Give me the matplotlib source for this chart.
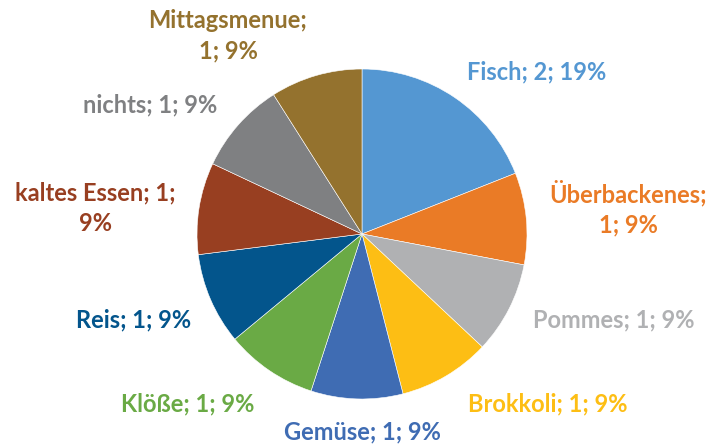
import numpy as np
import matplotlib
matplotlib.use('Agg')
import matplotlib.pyplot as plt

# Essenswünsche: Anzahl und Anteil je Kategorie
categories = ['Fisch', 'Überbackenes', 'Pommes', 'Brokkoli', 'Gemüse',
              'Klöße', 'Reis', 'kaltes Essen', 'nichts', 'Mittagsmenue']
counts = [2, 1, 1, 1, 1, 1, 1, 1, 1, 1]
percents = [19, 9, 9, 9, 9, 9, 9, 9, 9, 9]

colors = ['#5497D2', '#EA7B26', '#B0B1B3', '#FDBE14', '#3F6CB3',
          '#6AAA45', '#03558C', '#983F21', '#7F8082', '#94722E']

# Beschriftungen: Mittelpunkt (Pixel, y von oben) und Umbruchstelle
label_pos = [(537, 72), (628, 208), (614, 320), (548, 404), (362, 432),
             (188, 404), (134, 320), (95, 208), (150, 105), (228, 36)]
wrap_after = {'Überbackenes': 1, 'kaltes Essen': 2, 'Mittagsmenue': 1}

W, H = 713, 447
fig = plt.figure(figsize=(W / 100, H / 100), dpi=100)
ax = fig.add_axes([0, 0, 1, 1])

cx, cy, r = 362, H - 234, 165
ax.pie(percents, colors=colors, startangle=90, counterclock=False,
       center=(cx, cy), radius=r, frame=True,
       wedgeprops=dict(edgecolor='white', linewidth=0.4))
ax.set_xlim(0, W)
ax.set_ylim(0, H)
ax.set_aspect('equal')
ax.axis('off')

for name, n, p, c, (x, y) in zip(categories, counts, percents, colors, label_pos):
    parts = [f'{name};', f'{n};', f'{p}%']
    k = wrap_after.get(name)
    if k:
        text = ' '.join(parts[:k]) + '\n' + ' '.join(parts[k:])
    else:
        text = ' '.join(parts)
    ax.text(x, H - y, text, color=c, fontsize=17, fontweight='bold',
            family=['Lato', 'DejaVu Sans'],
            ha='center', va='center', linespacing=1.4)

fig.savefig('out.png', dpi=100)
